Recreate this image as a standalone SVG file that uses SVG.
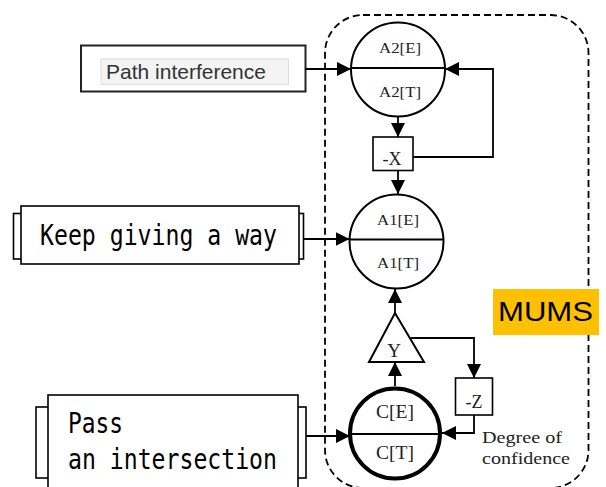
<svg xmlns="http://www.w3.org/2000/svg" width="606" height="487" viewBox="0 0 606 487">
<defs>
<marker id="ah" markerUnits="userSpaceOnUse" markerWidth="14" markerHeight="14" viewBox="0 0 14 14" refX="14" refY="7" orient="auto">
<path d="M0,0 L14,7 L0,14 Z" fill="#000"/>
</marker>
<style>
.ln{fill:none;stroke:#000;stroke-width:1.8}
.con{fill:none;stroke:#000;stroke-width:1.8;marker-end:url(#ah)}
.box{fill:#fff;stroke:#000;stroke-width:1.6}
.tab{fill:#fff;stroke:#000;stroke-width:1.6}
.cir{fill:#fff;stroke:#000;stroke-width:2}
.ser{font-family:"Liberation Serif","DejaVu Serif",serif;fill:#222}
.mono{font-family:"DejaVu Sans Mono","Liberation Mono",monospace;font-size:28px;fill:#000}
.sans{font-family:"Liberation Sans",Arial,sans-serif}
</style>
</defs>
<rect width="606" height="487" fill="#fff"/>

<g id="mums-boundary">
<rect x="325" y="15" width="263.5" height="473" rx="38" ry="38" fill="none" stroke="#000" stroke-width="1.8" stroke-dasharray="7,4"/>
</g>

<g id="mums-label">
<rect x="493" y="289" width="106" height="46" fill="#FFC000"/>
<text x="498" y="321" class="sans" font-size="27" textLength="95" lengthAdjust="spacingAndGlyphs" fill="#000">MUMS</text>
</g>

<g id="path-interference">
<rect x="81" y="45.5" width="224.5" height="46" fill="#fff" stroke="#222" stroke-width="2"/>
<rect x="101" y="59" width="187.5" height="25.5" fill="#f4f4f4" stroke="#ddd" stroke-width="1"/>
<text x="106" y="79" class="sans" font-size="21" fill="#333">Path interference</text>
</g>

<g id="keep-giving">
<rect x="13.5" y="213.5" width="290" height="45.5" class="tab"/>
<rect x="21" y="206" width="278" height="58" class="box"/>
<text x="40" y="245" class="mono" textLength="237" lengthAdjust="spacingAndGlyphs">Keep giving a way</text>
</g>

<g id="pass-intersection">
<rect x="36" y="407" width="270" height="71" class="tab"/>
<rect x="48" y="395" width="250" height="110" class="box"/>
<text x="68" y="433" class="mono" textLength="55" lengthAdjust="spacingAndGlyphs">Pass</text>
<text x="68" y="469" class="mono" textLength="209" lengthAdjust="spacingAndGlyphs">an intersection</text>
</g>

<g id="A2">
<circle cx="398" cy="69.5" r="47" class="cir"/>
<line x1="351" y1="68" x2="445" y2="68" class="ln"/>
<text x="400" y="52.5" class="ser" font-size="15.5" text-anchor="middle" textLength="42" lengthAdjust="spacingAndGlyphs">A2[E]</text>
<text x="400" y="96.5" class="ser" font-size="15.5" text-anchor="middle" textLength="42" lengthAdjust="spacingAndGlyphs">A2[T]</text>
</g>

<g id="X">
<rect x="373" y="137" width="40" height="33.5" class="box" stroke-width="2"/>
<text x="392" y="165" class="ser" font-size="18" text-anchor="middle">-X</text>
</g>

<g id="A1">
<circle cx="396.5" cy="241.5" r="47" class="cir"/>
<line x1="349.5" y1="239.5" x2="443.5" y2="239.5" class="ln"/>
<text x="398" y="224.5" class="ser" font-size="15.5" text-anchor="middle" textLength="42" lengthAdjust="spacingAndGlyphs">A1[E]</text>
<text x="398" y="268" class="ser" font-size="15.5" text-anchor="middle" textLength="42" lengthAdjust="spacingAndGlyphs">A1[T]</text>
</g>

<g id="Y">
<polygon points="395,313 424,362 369,362" fill="#fff" stroke="#000" stroke-width="2"/>
<text x="394" y="357" class="ser" font-size="19" text-anchor="middle">Y</text>
</g>

<g id="Z">
<rect x="455.5" y="378" width="37" height="37" class="box" stroke-width="2"/>
<text x="474" y="408" class="ser" font-size="18" text-anchor="middle">-Z</text>
</g>

<g id="C">
<circle cx="395" cy="433.5" r="45" fill="#fff" stroke="#000" stroke-width="4"/>
<line x1="350" y1="434" x2="440" y2="434" class="ln"/>
<text x="395" y="418" class="ser" font-size="19" text-anchor="middle" textLength="38" lengthAdjust="spacingAndGlyphs">C[E]</text>
<text x="395" y="459" class="ser" font-size="19" text-anchor="middle" textLength="38" lengthAdjust="spacingAndGlyphs">C[T]</text>
</g>

<g id="confidence-label">
<text x="482" y="443" class="ser" font-size="17" textLength="80" lengthAdjust="spacingAndGlyphs">Degree of</text>
<text x="482" y="464" class="ser" font-size="17" textLength="88" lengthAdjust="spacingAndGlyphs">confidence</text>
</g>

<g id="connectors">
<path d="M305.5,69 H351" class="con"/>
<path d="M398,117 V137" class="con"/>
<path d="M398,170.5 V194" class="con"/>
<path d="M413,157 H493 V69 H445" class="con"/>
<path d="M303.5,239 H349.5" class="con"/>
<path d="M395,313 V289" class="con"/>
<path d="M395,386 V362" class="con"/>
<path d="M411,338 H474 V378" class="con"/>
<path d="M474,415 V433 H442" class="con"/>
<path d="M306,436 H350" class="con"/>
</g>
</svg>
